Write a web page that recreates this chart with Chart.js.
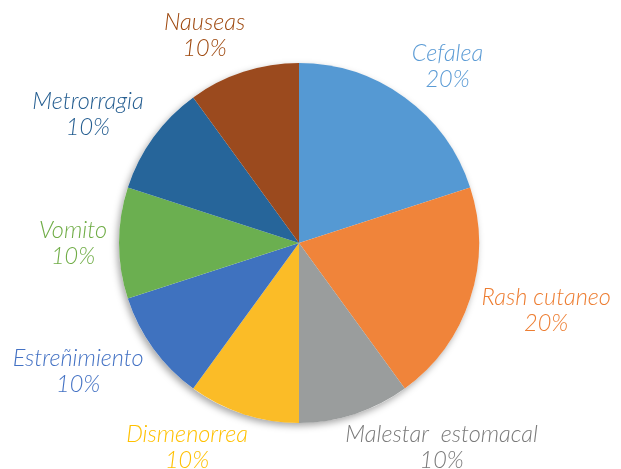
<!DOCTYPE html>
<html>
<head>
<meta charset="utf-8">
<script src="https://cdn.jsdelivr.net/npm/chart.js@4"></script>
<style>
  html, body { margin: 0; padding: 0; background: #fff; }
  #wrap { width: 621px; height: 469px; position: relative; }
</style>
</head>
<body>
<div id="wrap"><canvas id="chart"></canvas></div>
<script>
const categories = ['Cefalea', 'Rash cutaneo', 'Malestar  estomacal', 'Dismenorrea', 'Estreñimiento', 'Vomito', 'Metrorragia', 'Nauseas'];
const percents = [20, 20, 10, 10, 10, 10, 10, 10];
const percentLabels = ['20%', '20%', '10%', '10%', '10%', '10%', '10%', '10%'];

const sliceColors = ['#5599D3', '#F0843A', '#9A9D9D', '#FBBC27', '#3F72BF', '#6BAF50', '#26659A', '#9B4A1E'];
const textColors = ['#5B9BD5', '#ED7D31', '#7A7A7A', '#FFC000', '#4472C4', '#70AD47', '#255E91', '#9E480E'];

// soft shadow under the whole pie
const pieShadow = {
  id: 'pieShadow',
  beforeDatasetsDraw(chart) {
    const arc = chart.getDatasetMeta(0).data[0];
    if (!arc) return;
    const ctx = chart.ctx;
    ctx.save();
    ctx.shadowColor = 'rgba(0,0,0,0.35)';
    ctx.shadowBlur = 7;
    ctx.shadowOffsetX = -2;
    ctx.shadowOffsetY = 3;
    ctx.fillStyle = '#fff';
    ctx.beginPath();
    ctx.arc(arc.x, arc.y, arc.outerRadius, 0, Math.PI * 2);
    ctx.fill();
    ctx.restore();
  }
};

// labels outside each slice, placed from the arc geometry
const outsideLabels = {
  id: 'outsideLabels',
  afterDatasetsDraw(chart) {
    const ctx = chart.ctx;
    const meta = chart.getDatasetMeta(0);
    const lineH = 26;
    const gap = 12;
    const clampX = t => Math.max(-1, Math.min(1, t * 2.8));
    ctx.save();
    ctx.font = 'italic 300 23.5px Lato';
    ctx.textAlign = 'center';
    ctx.textBaseline = 'middle';
    meta.data.forEach((arc, i) => {
      const mid = (arc.startAngle + arc.endAngle) / 2;
      const c = Math.cos(mid), s = Math.sin(mid);
      const r = arc.outerRadius + gap;
      const px = arc.x + c * r, py = arc.y + s * r;
      const lines = [categories[i], percentLabels[i]];
      const w = Math.max(...lines.map(l => ctx.measureText(l).width));
      const h = lineH * 2;
      let cx = px + clampX(c) * w / 2;
      let cy = py + s * h / 2;
      cx = Math.max(w / 2 + 2, Math.min(chart.width - w / 2 - 2, cx));
      cy = Math.max(h / 2 + 8, Math.min(chart.height - h / 2 + 4, cy));
      ctx.fillStyle = textColors[i];
      ctx.fillText(lines[0], cx, cy - lineH / 2);
      ctx.fillText(lines[1], cx, cy + lineH / 2);
    });
    ctx.restore();
  }
};

new Chart(document.getElementById('chart'), {
  type: 'pie',
  data: {
    labels: categories,
    datasets: [{
      data: percents,
      backgroundColor: sliceColors,
      borderWidth: 0
    }]
  },
  options: {
    responsive: true,
    maintainAspectRatio: false,
    animation: false,
    layout: { padding: { left: 119, right: 142, top: 63, bottom: 46 } },
    plugins: {
      legend: { display: false },
      tooltip: { enabled: false }
    }
  },
  plugins: [pieShadow, outsideLabels]
});
</script>
</body>
</html>
